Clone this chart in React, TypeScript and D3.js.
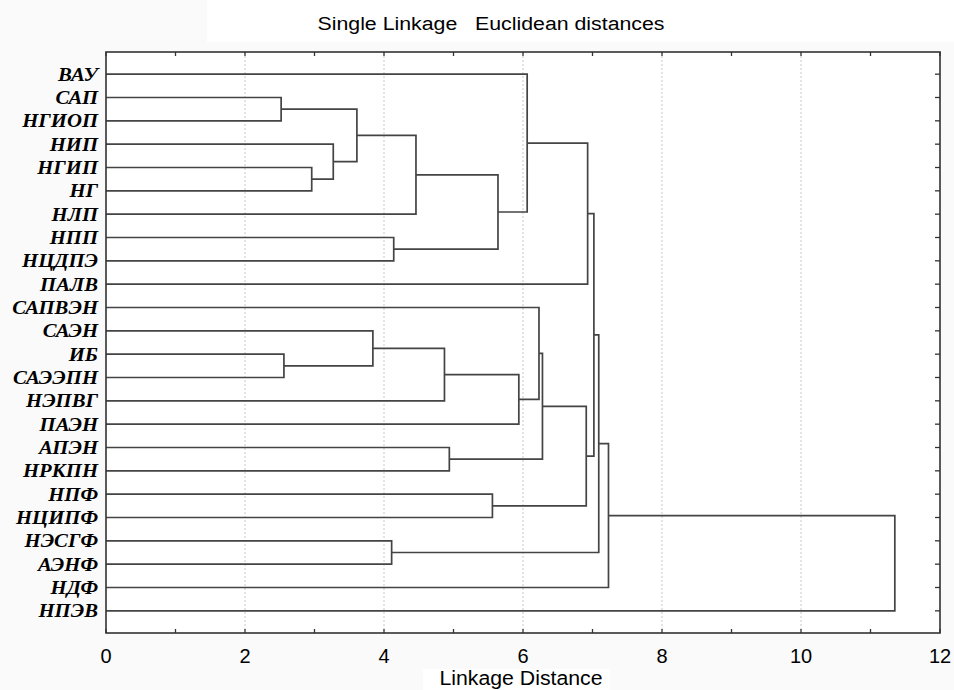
import * as d3 from "d3";

const leaves = [
  "ВАУ", "САП", "НГИОП", "НИП", "НГИП", "НГ", "НЛП", "НПП", "НЦДПЭ", "ПАЛВ",
  "САПВЭН", "САЭН", "ИБ", "САЭЭПН", "НЭПВГ", "ПАЭН", "АПЭН", "НРКПН",
  "НПФ", "НЦИПФ", "НЭСГФ", "АЭНФ", "НДФ", "НПЭВ",
];

// each merge: [child, child, linkage distance]; a number refers to an earlier merge
const merges: [string | number, string | number, number][] = [
  ["САП", "НГИОП", 2.52],
  ["ИБ", "САЭЭПН", 2.56],
  ["НГИП", "НГ", 2.96],
  ["НИП", 2, 3.27],
  [0, 3, 3.61],
  ["САЭН", 1, 3.84],
  ["НЭСГФ", "АЭНФ", 4.11],
  ["НПП", "НЦДПЭ", 4.14],
  [4, "НЛП", 4.46],
  [5, "НЭПВГ", 4.87],
  ["АПЭН", "НРКПН", 4.94],
  ["НПФ", "НЦИПФ", 5.56],
  [8, 7, 5.64],
  [9, "ПАЭН", 5.94],
  ["ВАУ", 12, 6.06],
  ["САПВЭН", 13, 6.23],
  [15, 10, 6.28],
  [16, 11, 6.91],
  [14, "ПАЛВ", 6.93],
  [18, 17, 7.02],
  [19, 6, 7.09],
  [20, "НДФ", 7.23],
  [21, "НПЭВ", 11.35],
];

const xTicks = d3.range(0, 13);
const xLabelTicks = [0, 2, 4, 6, 8, 10, 12];
const title = "Single Linkage   Euclidean distances";
const xTitle = "Linkage Distance";

const width = 954;
const height = 690;
const left = 106;
const right = 940;
const top = 52;
const bottom = 633;

export default function App() {
  const x = d3.scaleLinear().domain([0, 12]).range([left, right]);
  const y = d3.scalePoint<string>().domain(leaves).range([top, bottom]).padding(0.95);

  const pos: { x: number; y: number }[] = [];
  const nodePos = (c: string | number) =>
    typeof c === "number" ? pos[c] : { x: x(0), y: y(c) as number };

  const paths = merges.map(([a, b, h]) => {
    const pa = nodePos(a);
    const pb = nodePos(b);
    const xh = x(h);
    pos.push({ x: xh, y: (pa.y + pb.y) / 2 });
    const p = d3.path();
    p.moveTo(pa.x, pa.y);
    p.lineTo(xh, pa.y);
    p.lineTo(xh, pb.y);
    p.lineTo(pb.x, pb.y);
    return p.toString();
  });

  return (
    <div style={{ position: "absolute", left: 0, top: 0 }}>
      <svg width={width} height={height} style={{ display: "block" }}>
        <rect width={width} height={height} fill="#fafafa" />
        <rect x={207} y={0} width={width - 207} height={42} fill="#ffffff" />
        <rect x={left} y={top} width={right - left} height={bottom - top} fill="#ffffff" />
        <text
          x={491}
          y={30}
          textAnchor="middle"
          fontFamily="Liberation Sans, Arial, sans-serif"
          fontSize={18}
          textLength={347}
          lengthAdjust="spacingAndGlyphs"
          style={{ whiteSpace: "pre" }}
        >
          {title}
        </text>
        {xLabelTicks
          .filter((t) => t > 0 && t < 12)
          .map((t) => (
            <line
              key={"g" + t}
              x1={x(t)}
              x2={x(t)}
              y1={top}
              y2={bottom}
              stroke="#c8c8c8"
              strokeWidth={1}
              strokeDasharray="2,2"
            />
          ))}
        {paths.map((d, i) => (
          <path key={i} d={d} fill="none" stroke="#444" strokeWidth={1.7} />
        ))}
        <rect
          x={left}
          y={top}
          width={right - left}
          height={bottom - top}
          fill="none"
          stroke="#333"
          strokeWidth={1.6}
        />
        {xTicks.map((t) => (
          <g key={"t" + t}>
            <line x1={x(t)} x2={x(t)} y1={top} y2={top + 4} stroke="#333" strokeWidth={1.3} />
            <line x1={x(t)} x2={x(t)} y1={bottom} y2={bottom - 4} stroke="#333" strokeWidth={1.3} />
          </g>
        ))}
        {leaves.map((l) => (
          <line
            key={"r" + l}
            x1={right}
            x2={right - 5}
            y1={y(l)}
            y2={y(l)}
            stroke="#333"
            strokeWidth={1.3}
          />
        ))}
        {xLabelTicks.map((t) => (
          <text
            key={"l" + t}
            x={x(t)}
            y={663}
            textAnchor="middle"
            fontFamily="Liberation Sans, Arial, sans-serif"
            fontSize={20}
          >
            {t}
          </text>
        ))}
        {leaves.map((l) => (
          <text
            key={"n" + l}
            transform={`translate(98,${(y(l) as number) + 6.5}) scale(1.09,1)`}
            textAnchor="end"
            fontFamily="Liberation Serif, Times New Roman, serif"
            fontWeight="bold"
            fontStyle="italic"
            fontSize={19}
          >
            {l}
          </text>
        ))}
        <rect x={423} y={669} width={187} height={21} fill="#ffffff" />
        <text
          x={521}
          y={685}
          textAnchor="middle"
          fontFamily="Liberation Sans, Arial, sans-serif"
          fontSize={20}
          textLength={163}
          lengthAdjust="spacingAndGlyphs"
        >
          {xTitle}
        </text>
      </svg>
    </div>
  );
}
